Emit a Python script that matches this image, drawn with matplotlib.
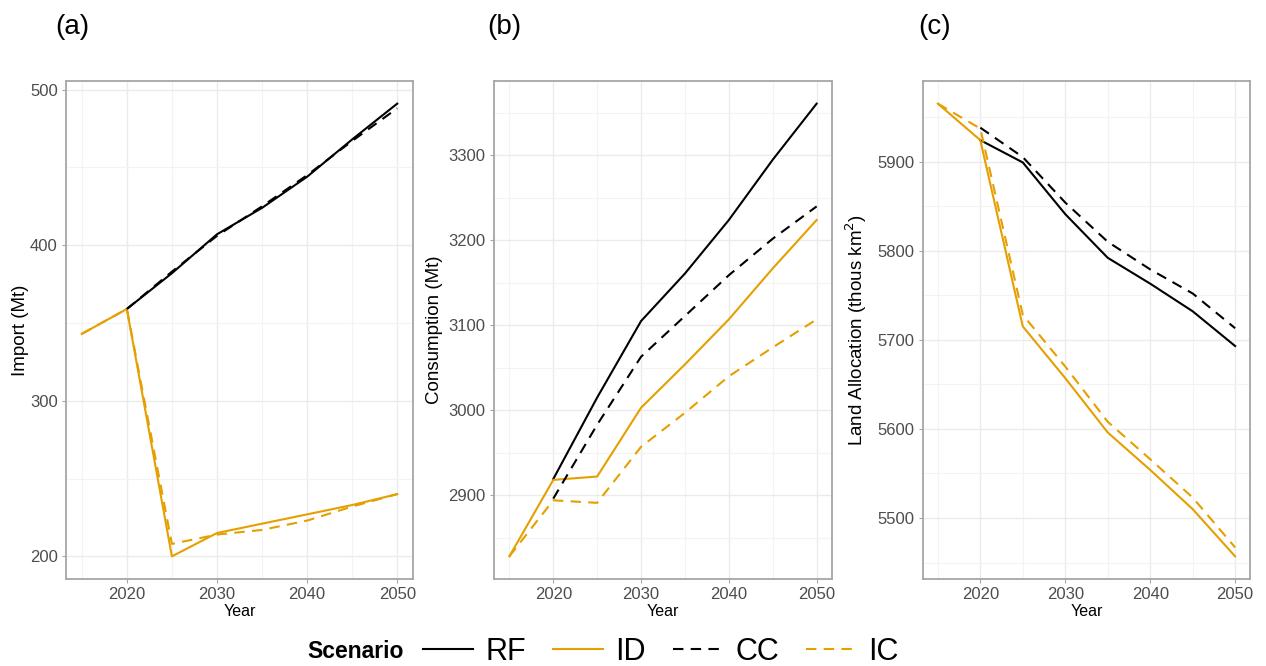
import matplotlib.pyplot as plt
from matplotlib.lines import Line2D
from matplotlib.ticker import MultipleLocator

plt.rcParams['font.family'] = ['Liberation Sans', 'DejaVu Sans']

years = [2015, 2020, 2025, 2030, 2035, 2040, 2045, 2050]
years_late = years[1:]

# (a) Import (Mt)
imp_rf = [359, 382, 407, 424, 444, 468, 491]
imp_cc = [359, 383, 406, 425, 445, 467, 488]
imp_id = [343, 359, 200, 215, 221, 227, 233, 240]
imp_ic = [343, 359, 208, 214, 217, 223, 232, 240]

# (b) Consumption (Mt)
con_rf = [2919, 3015, 3105, 3161, 3224, 3295, 3361]
con_cc = [2896, 2983, 3063, 3111, 3159, 3202, 3240]
con_id = [2828, 2918, 2922, 3003, 3054, 3107, 3167, 3224]
con_ic = [2828, 2894, 2891, 2957, 2997, 3040, 3074, 3107]

# (c) Land allocation (thous km2)
land_rf = [5924, 5899, 5841, 5792, 5763, 5732, 5693]
land_cc = [5938, 5905, 5854, 5810, 5779, 5752, 5713]
land_id = [5965, 5924, 5715, 5657, 5596, 5554, 5510, 5457]
land_ic = [5965, 5937, 5728, 5670, 5608, 5566, 5523, 5467]

scenarios = ['RF', 'ID', 'CC', 'IC']
colors = {'RF': 'black', 'ID': '#E69F00', 'CC': 'black', 'IC': '#E69F00'}
dash = (0, (5, 3.5))
styles = {'RF': '-', 'ID': '-', 'CC': dash, 'IC': dash}

panels = [
    ('(a)', 'Import (Mt)', imp_rf, imp_id, imp_cc, imp_ic),
    ('(b)', 'Consumption (Mt)', con_rf, con_id, con_cc, con_ic),
    ('(c)', 'Land Allocation (thous km$^2$)', land_rf, land_id, land_cc, land_ic),
]
lefts = [66, 494, 923]
rights = [413, 832, 1250]
ylab_x = [29, 443, 869]
tag_x = [55, 487, 918]
top, bottom = 81, 579

W, H = 1266, 666
fig = plt.figure(figsize=(W / 100, H / 100), dpi=100)

for i, (tag, ylab, rf, idd, cc, ic) in enumerate(panels):
    ax = fig.add_axes([lefts[i] / W, 1 - bottom / H, (rights[i] - lefts[i]) / W, (bottom - top) / H])
    ax.plot(years_late, rf, color=colors['RF'], ls=styles['RF'], lw=1.5)
    ax.plot(years, idd, color=colors['ID'], ls=styles['ID'], lw=1.5)
    ax.plot(years_late, cc, color=colors['CC'], ls=styles['CC'], lw=1.5)
    ax.plot(years, ic, color=colors['IC'], ls=styles['IC'], lw=1.5)

    # ggplot-style 5% expansion
    allv = rf + idd + cc + ic
    lo, hi = min(allv), max(allv)
    pad = (hi - lo) * 0.05
    ax.set_ylim(lo - pad, hi + pad)
    ax.set_xlim(2015 - 1.75, 2050 + 1.75)

    ax.xaxis.set_major_locator(MultipleLocator(10))
    ax.xaxis.set_minor_locator(MultipleLocator(5))
    ax.yaxis.set_major_locator(MultipleLocator(100))
    ax.yaxis.set_minor_locator(MultipleLocator(50))
    ax.grid(which='major', color='#ebebeb', lw=1.0)
    ax.grid(which='minor', color='#f3f3f3', lw=0.8)
    ax.set_axisbelow(True)
    for s in ax.spines.values():
        s.set_color('#a6a6a6')
        s.set_linewidth(1.3)
    ax.tick_params(which='major', length=3, color='#a6a6a6', labelsize=12,
                   labelcolor='#4d4d4d', pad=3)
    ax.tick_params(which='minor', length=0)

    ax.set_xlabel('Year', fontsize=11.5, labelpad=1)
    ax.set_ylabel(ylab, fontsize=13.5)
    ax.yaxis.set_label_coords((ylab_x[i] - lefts[i]) / (rights[i] - lefts[i]), 0.5)
    fig.text(tag_x[i] / W, 1 - 27 / H, tag, fontsize=20, va='center', ha='left')

handles = [Line2D([], [], color=colors[s], ls=styles[s], lw=1.5) for s in scenarios]
fig.text(307 / W, 1 - 652 / H, 'Scenario', fontsize=16.5, fontweight='bold', va='center')
fig.legend(handles, scenarios, loc='center left', bbox_to_anchor=(423 / W, 1 - 652 / H),
           ncol=4, frameon=False, fontsize=22, handlelength=1.63, handletextpad=0.4,
           columnspacing=0.9, borderaxespad=0, borderpad=0)

fig.savefig('out.png', dpi=100)
